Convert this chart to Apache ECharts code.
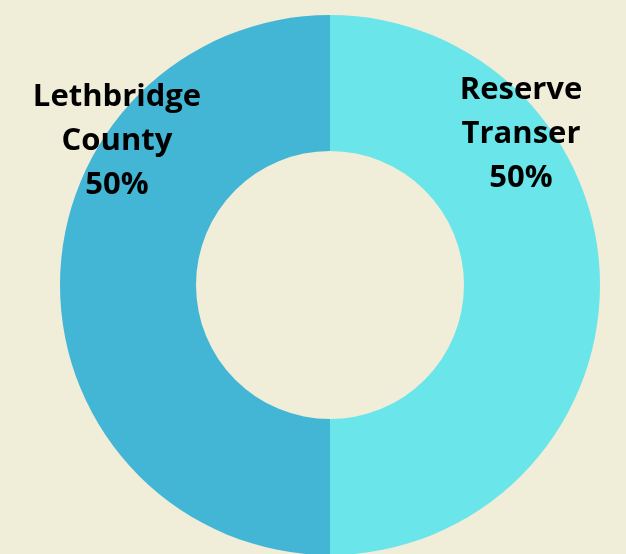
<!DOCTYPE html>
<html>
<head>
<meta charset="utf-8">
<script src="https://cdn.jsdelivr.net/npm/echarts@6/dist/echarts.min.js"></script>
<style>
  html, body { margin: 0; padding: 0; background: #f0edd8; }
  #main { width: 626px; height: 554px; }
</style>
</head>
<body>
<div id="main"></div>
<script>
    var categories = ['Reserve\nTranser', 'Lethbridge\nCounty'];
    var values = [50, 50];
    var colors = ['#6ae5e9', '#43b6d6'];

    // where each label block sits (centre of the text block)
    var labelSpots = [[521, 134], [117, 141]];

    var myChart = echarts.init(document.getElementById('main'));
    var option = {
        backgroundColor: '#f0edd8',
        animation: false,
        series: [{
            type: 'pie',
            radius: [134, 270],
            center: [330, 285],
            startAngle: 90,
            clockwise: true,
            data: categories.map(function(name, i) {
                return { name: name, value: values[i], itemStyle: { color: colors[i] } };
            }),
            label: {
                show: true,
                position: 'inside',
                formatter: '{b}\n{d}%',
                color: '#000',
                fontFamily: 'Open Sans',
                fontWeight: 'bold',
                fontSize: 31,
                lineHeight: 44,
                align: 'center'
            },
            labelLine: { show: false },
            labelLayout: function(params) {
                var p = labelSpots[params.dataIndex];
                return { x: p[0], y: p[1], align: 'center', verticalAlign: 'middle' };
            },
            emphasis: { disabled: true }
        }]
    };
    myChart.setOption(option);
</script>
</body>
</html>
